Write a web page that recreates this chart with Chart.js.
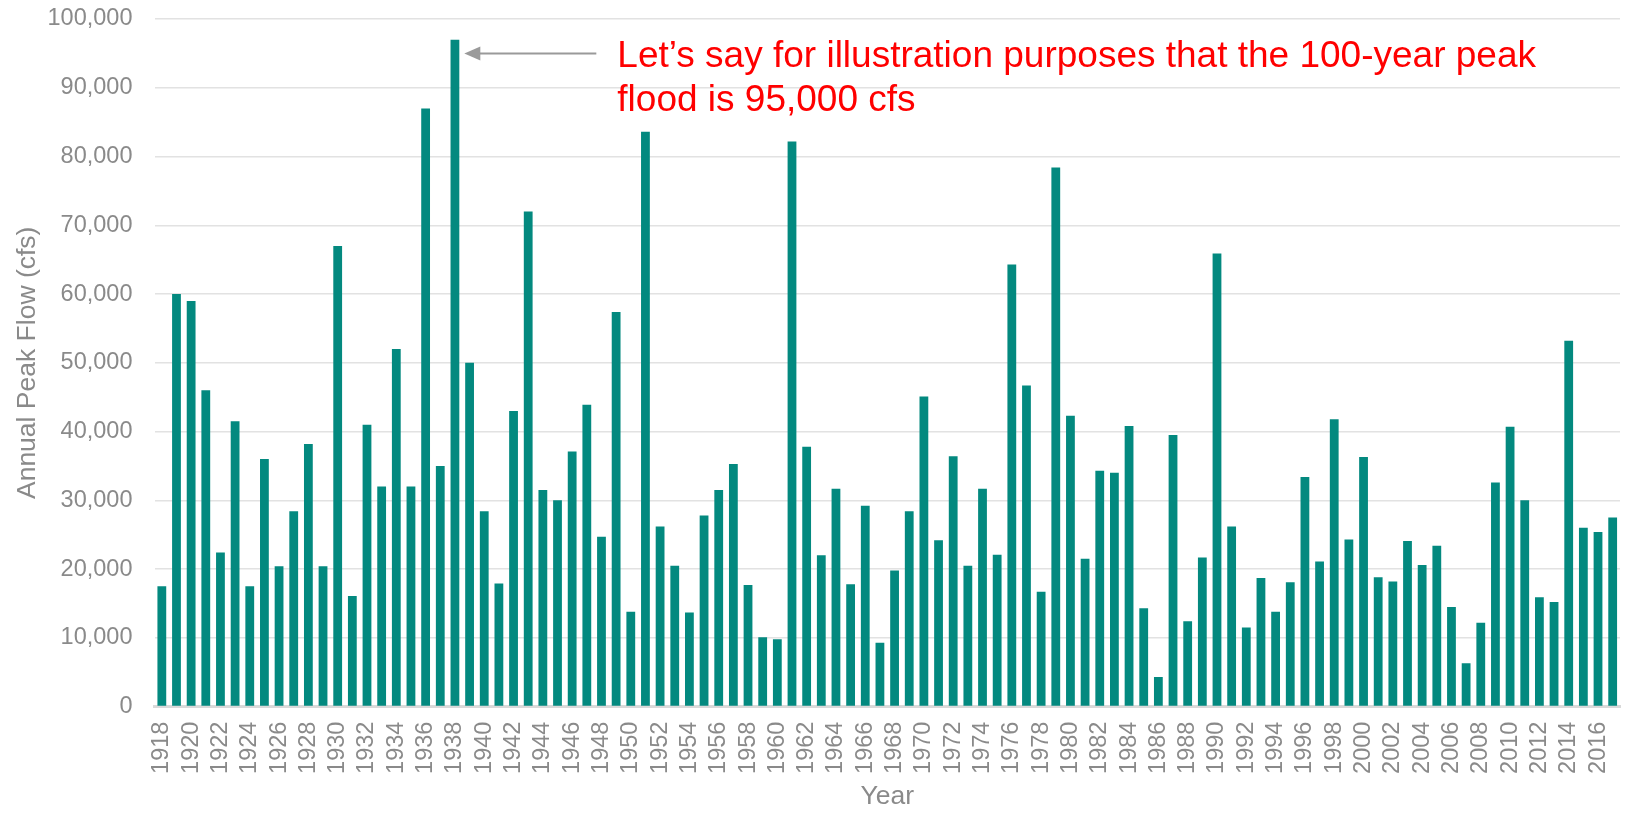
<!DOCTYPE html>
<html>
<head>
<meta charset="utf-8">
<script src="https://cdn.jsdelivr.net/npm/chart.js@4"></script>
<style>
  html, body { margin: 0; padding: 0; background: #fff; }
  #wrap { width: 1627px; height: 817px; position: relative; }
</style>
</head>
<body>
<div id="wrap"><canvas id="peakChart"></canvas></div>
<script>
// years 1918 - 2017
const years = [];
for (let y = 1918; y <= 2017; y++) years.push(String(y));

// annual peak flow (cfs)
const peakFlow = [
  17500, 60000, 59000, 46000, 22400, 41500, 17500, 36000, 20400, 28400,  // 1918-1927
  38200, 20400, 67000, 16100, 41000, 32000, 52000, 32000, 87000, 35000,  // 1928-1937
  97000, 50000, 28400, 17900, 43000, 72000, 31500, 30000, 37100, 43900,  // 1938-1947
  24700, 57400, 13800, 83600, 26200, 20500, 13700, 27800, 31500, 35300,  // 1948-1957
  17700, 10100, 9800, 82200, 37800, 22000, 31700, 17800, 29200, 9300,    // 1958-1967
  19800, 28400, 45100, 24200, 36400, 20500, 31700, 22100, 64300, 46700,  // 1968-1977
  16700, 78400, 42300, 21500, 34300, 34000, 40800, 14300, 4300, 39500,   // 1978-1987
  12400, 21700, 65900, 26200, 11500, 18700, 13800, 18100, 33400, 21100,  // 1988-1997
  41800, 24300, 36300, 18800, 18200, 24100, 20600, 23400, 14500, 6300,   // 1998-2007
  12200, 32600, 40700, 30000, 15900, 15200, 53200, 26000, 25400, 27500   // 2008-2017
];

const yTickMin = 0;
const yTickMax = 100000;
const yTickStep = 10000;

// the callout
const calloutYear = '1938';
const calloutValue = 95000;
const calloutLines = [
  'Let\u2019s say for illustration purposes that the 100-year peak',
  'flood is 95,000 cfs'
];

const fontFamily = '"Liberation Sans", Arial, sans-serif';
const gray = '#8a8a8a';

const calloutPlugin = {
  id: 'callout',
  afterDraw(chart) {
    const ctx = chart.ctx;
    const bar = chart.getDatasetMeta(0).data[years.indexOf(calloutYear)];
    const tipX = bar.x + bar.width / 2 + 5;
    const y = chart.scales.y.getPixelForValue(calloutValue);
    ctx.save();
    // arrow
    ctx.strokeStyle = '#9a9a9a';
    ctx.fillStyle = '#9a9a9a';
    ctx.lineWidth = 2;
    ctx.beginPath();
    ctx.moveTo(tipX + 14, y);
    ctx.lineTo(tipX + 132, y);
    ctx.stroke();
    ctx.beginPath();
    ctx.moveTo(tipX, y);
    ctx.lineTo(tipX + 16, y - 7);
    ctx.lineTo(tipX + 16, y + 7);
    ctx.closePath();
    ctx.fill();
    // text
    ctx.fillStyle = '#ff0000';
    ctx.font = '37px ' + fontFamily;
    ctx.textBaseline = 'alphabetic';
    ctx.textAlign = 'left';
    calloutLines.forEach((line, i) => {
      ctx.fillText(line, tipX + 153, y + 13.5 + i * 44.5);
    });
    ctx.restore();
  }
};

const ctx = document.getElementById('peakChart').getContext('2d');
const peakChart = new Chart(ctx, {
  type: 'bar',
  data: {
    labels: years,
    datasets: [{
      label: 'Annual Peak Flow',
      data: peakFlow,
      backgroundColor: '#03897f',
      barPercentage: 0.6,
      categoryPercentage: 1.0
    }]
  },
  options: {
    responsive: true,
    maintainAspectRatio: false,
    animation: false,
    layout: { padding: { top: 19, right: 7, left: 0, bottom: 0 } },
    plugins: {
      legend: { display: false },
      tooltip: { enabled: false }
    },
    scales: {
      x: {
        grid: { display: false, drawTicks: false },
        border: { display: true, color: '#d9d9d9', width: 3 },
        ticks: {
          autoSkip: false,
          minRotation: 90,
          maxRotation: 90,
          padding: 15,
          color: gray,
          font: { family: fontFamily, size: 23.5 },
          callback: function (val, i) { return i % 2 === 0 ? this.getLabelForValue(val) : null; }
        },
        title: {
          display: true,
          text: 'Year',
          color: gray,
          font: { family: fontFamily, size: 26.5 },
          padding: { top: 0, bottom: 4 }
        },
        afterFit: (scale) => {
          scale.height = 110.4;
          scale.paddingLeft = 0;
          scale.paddingRight = 0;
        }
      },
      y: {
        min: yTickMin,
        max: yTickMax,
        grid: { color: '#e2e2e2', lineWidth: 1.5, drawTicks: false },
        border: { display: false },
        ticks: {
          stepSize: yTickStep,
          padding: 22,
          color: gray,
          font: { family: fontFamily, size: 23.5 },
          callback: (v) => v.toLocaleString('en-US')
        },
        title: {
          display: true,
          text: 'Annual Peak Flow (cfs)',
          color: gray,
          font: { family: fontFamily, size: 26.5 },
          padding: { top: 11.5, bottom: 0 }
        },
        afterFit: (scale) => {
          scale.width = 154.5;
          scale.paddingTop = 0;
          scale.paddingBottom = 0;
        }
      }
    }
  },
  plugins: [calloutPlugin]
});
</script>
</body>
</html>
